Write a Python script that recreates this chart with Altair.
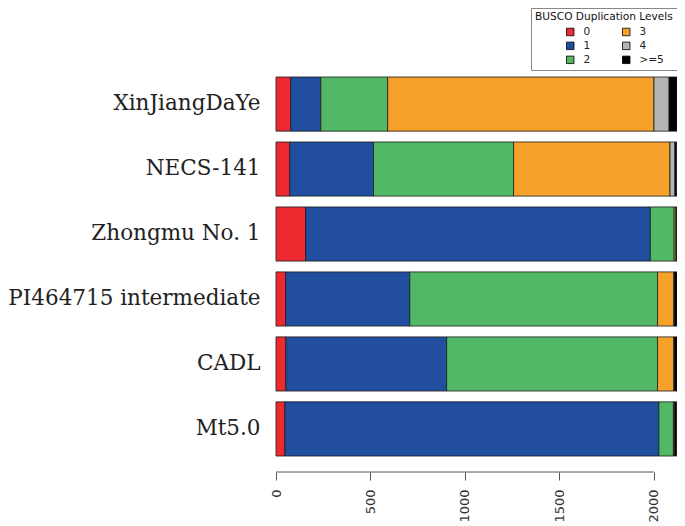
import altair as alt
import pandas as pd

categories = ["XinJiangDaYe", "NECS-141", "Zhongmu No. 1",
              "PI464715 intermediate", "CADL", "Mt5.0"]
levels = ["0", "1", "2", "3", "4", ">=5"]
level_0 = [78, 73, 157, 51, 52, 47]
level_1 = [159, 443, 1824, 657, 851, 1979]
level_2 = [354, 741, 126, 1311, 1116, 77]
level_3 = [1409, 828, 9, 86, 86, 5]
level_4 = [80, 26, 4, 3, 3, 3]
level_5 = [42, 10, 2, 14, 14, 10]
series = [level_0, level_1, level_2, level_3, level_4, level_5]
tick_values = [0, 500, 1000, 1500, 2000]

level_colors = ["#EC2A2F", "#214E9F", "#53B865", "#F5A12A", "#B4B4B4", "#000000"]

rows = []
for i, lvl in enumerate(levels):
    for c, v in zip(categories, series[i]):
        rows.append({"genome": c, "level": lvl, "rank": i, "count": v})
df = pd.DataFrame(rows)

axis_df = pd.DataFrame({"count": [tick_values[0]], "count_end": [tick_values[-1]]})

PLOT_W = 401
PLOT_H = 379

x_axis = alt.Axis(values=tick_values, format="d", title=None, grid=False,
                  domain=False, offset=16, labelAngle=-90, tickSize=8,
                  labelPadding=9, labelFont="DejaVu Sans", labelFontSize=13,
                  labelColor="#333", tickColor="#555")
x_scale = alt.Scale(domain=[0, 2122], nice=False, zero=True)

bars = alt.Chart(df).mark_bar(stroke="#1a1a1a", strokeWidth=0.8).encode(
    x=alt.X("count:Q", stack="zero", scale=x_scale, axis=x_axis),
    y=alt.Y("genome:N", sort=categories,
            scale=alt.Scale(paddingInner=0.1667, paddingOuter=0),
            axis=alt.Axis(title=None, ticks=False, domain=False,
                          labelFont="DejaVu Serif", labelFontSize=21.5,
                          labelColor="#222", labelPadding=16, labelLimit=400)),
    color=alt.Color("level:N",
                    scale=alt.Scale(domain=levels, range=level_colors),
                    legend=alt.Legend(
                        title="BUSCO Duplication Levels", orient="none",
                        legendX=255, legendY=-69, columns=2,
                        titleFont="DejaVu Sans", titleFontSize=10.6,
                        titleFontWeight="normal", titleColor="#111",
                        titlePadding=4,
                        labelFont="DejaVu Sans", labelFontSize=10.5,
                        labelColor="#222",
                        symbolType="square", symbolSize=56,
                        symbolStrokeColor="#000", symbolStrokeWidth=0.8,
                        symbolOpacity=1,
                        symbolOffset=30, labelOffset=8,
                        columnPadding=-14, rowPadding=2,
                        strokeColor="#888", padding=4, fillColor="white")),
    order=alt.Order("rank:Q", sort="ascending"),
)

axis_line = alt.Chart(axis_df).mark_rule(color="#555", strokeWidth=1).encode(
    x=alt.X("count:Q", scale=x_scale, axis=x_axis),
    x2="count_end:Q",
    y=alt.value(PLOT_H + 16),
)

chart = alt.layer(bars, axis_line).properties(
    width=PLOT_W, height=PLOT_H,
    autosize=alt.AutoSizeParams(type="none"),
    padding={"left": 268, "top": 69, "right": 0, "bottom": 70},
    background="white",
).configure_view(stroke=None)

chart.save("out.html", embed_options={"renderer": "svg", "actions": False})
